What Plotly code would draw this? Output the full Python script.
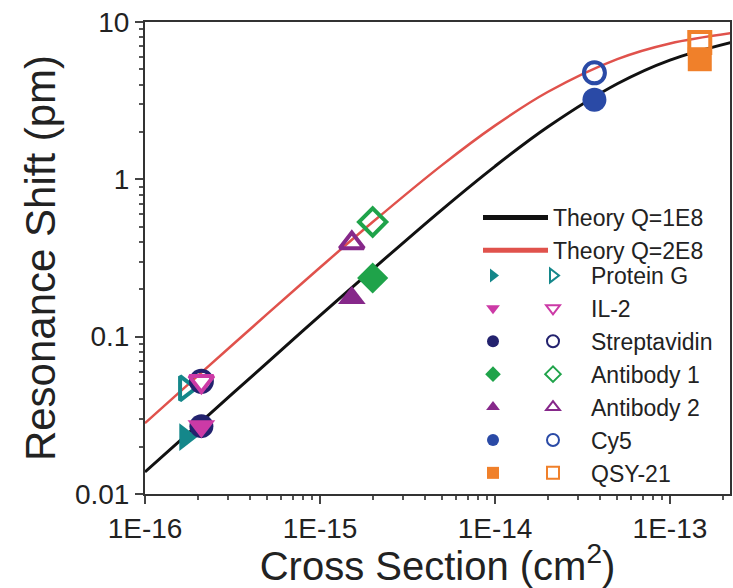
import plotly.graph_objects as go

# Measured resonance shifts (pm) versus molecular cross section (cm^2)
names = ["Protein G", "IL-2", "Streptavidin", "Antibody 1", "Antibody 2", "Cy5", "QSY-21"]
cross_section = [1.7e-16, 2.1e-16, 2.1e-16, 2.0e-15, 1.52e-15, 3.7e-14, 1.48e-13]
shift_q1e8 = [0.023, 0.027, 0.027, 0.236, 0.176, 3.2, 5.8]
shift_q2e8 = [0.047, 0.052, 0.052, 0.536, 0.394, 4.75, 7.4]
symbols = ["triangle-right", "triangle-down", "circle", "diamond", "triangle-up", "circle", "square"]
colors = ["#14878a", "#cc3aa6", "#23226e", "#1fa34a", "#86288a", "#2a4aa6", "#f0802a"]
# drawing order (streptavidin beneath IL-2); legend keeps the listed order
draw_order = [0, 2, 1, 3, 4, 5, 6]

# Theory curves for two quality factors
theory_x = [1e-16, 2e-16, 5e-16, 1e-15, 2e-15, 5e-15, 1e-14, 2e-14, 5e-14, 1e-13, 2.4e-13]
theory_q1e8 = [0.0138, 0.0275, 0.0685, 0.136, 0.268, 0.645, 1.21, 2.15, 4.05, 5.73, 7.56]
theory_q2e8 = [0.0282, 0.0563, 0.1395, 0.275, 0.535, 1.236, 2.195, 3.59, 5.81, 7.31, 8.6]

x_tickvals = [1e-16, 1e-15, 1e-14, 1e-13]
x_ticktext = ["1E-16", "1E-15", "1E-14", "1E-13"]
y_tickvals = [0.01, 0.1, 1, 10]
y_ticktext = ["0.01", "0.1", "1", "10"]

FONT = "Liberation Sans, Arial, sans-serif"
LEG_FONT = dict(family=FONT, size=23, color="#222")

fig = go.Figure()

fig.add_trace(go.Scatter(x=theory_x, y=theory_q1e8, mode="lines", name="Theory Q=1E8",
                         line=dict(color="#111111", width=3, shape="spline"), legend="legend"))
fig.add_trace(go.Scatter(x=theory_x, y=theory_q2e8, mode="lines", name="Theory Q=2E8",
                         line=dict(color="#e0524c", width=2.5, shape="spline"), legend="legend"))

for i in draw_order:
    fig.add_trace(go.Scatter(
        x=[cross_section[i]], y=[shift_q1e8[i]], mode="markers", name="",
        marker=dict(symbol=symbols[i], size=24, color=colors[i], line=dict(width=0)),
        legend="legend2", legendrank=i + 1))

for i in draw_order:
    fig.add_trace(go.Scatter(
        x=[cross_section[i]], y=[shift_q2e8[i]], mode="markers", name=names[i],
        marker=dict(symbol=symbols[i] + "-open", size=21, color=colors[i], line=dict(width=4)),
        legend="legend3", legendrank=i + 1))

def px_x(p):
    return (p - 145) / 585

def px_y(p):
    return (494 - p) / 472

leg_common = dict(font=LEG_FONT, bgcolor="rgba(0,0,0,0)", borderwidth=0,
                  xanchor="left", yanchor="top", itemsizing="constant")

fig.update_layout(
    width=733, height=588, autosize=False,
    margin=dict(l=145, r=3, t=22, b=94),
    paper_bgcolor="white", plot_bgcolor="white",
    font=dict(family=FONT, color="#222"),
    legend=dict(x=px_x(478), y=px_y(196), itemwidth=65, **leg_common),
    legend2=dict(x=px_x(473), y=px_y(254), itemwidth=30, **leg_common),
    legend3=dict(x=px_x(515), y=px_y(254), itemwidth=66, **leg_common),
    xaxis=dict(
        type="log", range=[-16, -12.657],
        tickvals=x_tickvals, ticktext=x_ticktext,
        ticks="outside", ticklen=8, tickwidth=2, tickcolor="#444",
        minor=dict(ticks="outside", ticklen=4, tickwidth=1.5, tickcolor="#555", dtick="D1", showgrid=False),
        showline=True, linecolor="#333", linewidth=2, mirror=True,
        showgrid=False, zeroline=False,
        tickfont=dict(family=FONT, size=28, color="#222"),
        title=dict(text="Cross Section (cm<sup>2</sup>)", font=dict(family=FONT, size=40, color="#222"), standoff=4),
        automargin=False,
    ),
    yaxis=dict(
        type="log", range=[-2, 1],
        tickvals=y_tickvals, ticktext=y_ticktext,
        ticks="outside", ticklen=8, tickwidth=2, tickcolor="#444",
        minor=dict(ticks="outside", ticklen=4, tickwidth=1.5, tickcolor="#555", dtick="D1", showgrid=False),
        showline=True, linecolor="#333", linewidth=2, mirror=True,
        showgrid=False, zeroline=False,
        tickfont=dict(family=FONT, size=28, color="#222"),
        title=dict(text="Resonance Shift (pm)", font=dict(family=FONT, size=42, color="#222"), standoff=6),
        automargin=False,
    ),
)

fig.write_html("out.html")
